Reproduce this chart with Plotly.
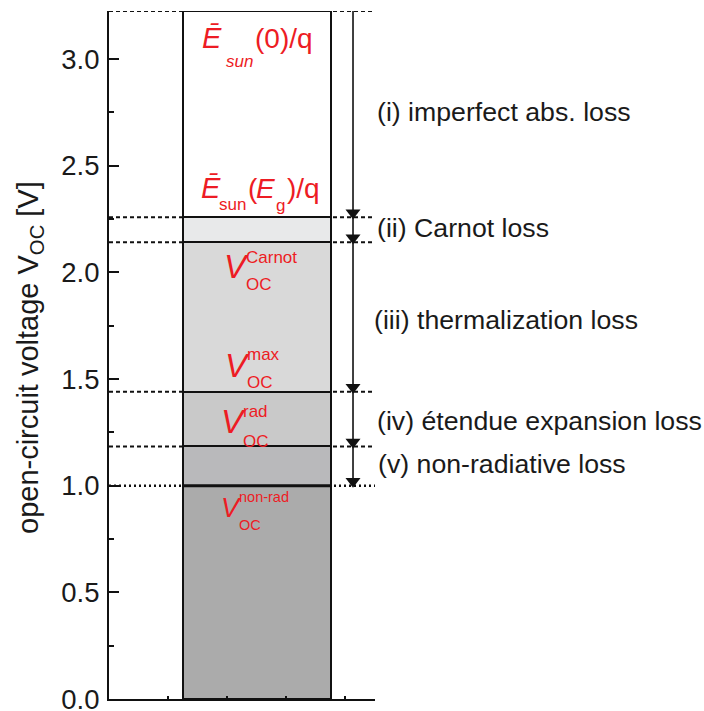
import plotly.graph_objects as go

# ---------------- data ----------------
# energy / voltage levels (V), from top to bottom
level_names = ["Esun(0)/q", "Esun(Eg)/q", "VOC Carnot", "VOC max", "VOC rad", "VOC non-rad"]
levels = [3.225, 2.258, 2.141, 1.440, 1.184, 1.000]
loss_labels = [
    "(i) imperfect abs. loss",
    "(ii) Carnot loss",
    "(iii) thermalization loss",
    "(iv) étendue expansion loss",
    "(v) non-radiative loss",
]
ytick_vals = [0.0, 0.5, 1.0, 1.5, 2.0, 2.5, 3.0]

# ---------------- style ----------------
RED = "#ed1c24"
INK = "#1a1a1a"
FONT = "Liberation Sans, Arial, sans-serif"
seg_colors = ["#ffffff", "#e8e9ea", "#d9d9d9", "#c9c9c9", "#b9b9bb", "#ababab"]  # top -> bottom
W, H = 704, 711
ML, MR, MT, MB = 109, 329, 11, 12
PW, PH = W - ML - MR, H - MT - MB
XMAX = 4.5
YMAX = levels[0]
BAR_X, BAR_W = 2.5, 2.5
ARROW_X = 4.128
px_per_v = PH / YMAX

fig = go.Figure()

# stacked level segments (drawn with base)
bases = levels[1:] + [0.0]
for top, base, col in zip(levels, bases, seg_colors):
    fig.add_trace(go.Bar(
        x=[BAR_X], y=[top - base], base=[base], width=BAR_W,
        marker=dict(color=col, line=dict(color="#111111", width=2)),
        cliponaxis=False, showlegend=False, hoverinfo="skip",
    ))

shapes = []
# dashed level lines across the whole axis (behind the bar)
for i, lv in enumerate(levels):
    last = i == len(levels) - 1
    shapes.append(dict(
        type="line", xref="x", yref="y", x0=0, x1=XMAX, y0=lv, y1=lv,
        layer="below",
        line=dict(color="#111111", width=2.5 if last else 2,
                  dash="2px,3px" if last else "4px,3px"),
    ))
# thicker line at the non-radiative level inside the bar
shapes.append(dict(type="line", xref="x", yref="y",
                   x0=BAR_X - BAR_W / 2, x1=BAR_X + BAR_W / 2,
                   y0=levels[-1], y1=levels[-1],
                   line=dict(color="#111111", width=3)))

# arrow line
fig.add_trace(go.Scatter(
    x=[ARROW_X, ARROW_X], y=[levels[0], levels[-1]], mode="lines",
    line=dict(color="#111111", width=1.6), cliponaxis=False,
    showlegend=False, hoverinfo="skip",
))
# arrow heads (tip placed on each level)
head_size = 13
fig.add_trace(go.Scatter(
    x=[ARROW_X] * (len(levels) - 1),
    y=[lv + 4.5 / px_per_v for lv in levels[1:]],
    mode="markers",
    marker=dict(symbol="triangle-down", size=head_size, color="#111111",
                line=dict(width=0)),
    cliponaxis=False, showlegend=False, hoverinfo="skip",
))

annotations = []


def px_to_paper(px, py):
    return (px - ML) / PW, (H - MB - py) / PH


def piece(px_left, baseline, text, size, color=RED, italic=False):
    xc, yc = px_to_paper(px_left, baseline - 0.3465 * size)
    annotations.append(dict(
        xref="paper", yref="paper", x=xc, y=yc, xanchor="left", yanchor="middle",
        text=f"<i>{text}</i>" if italic else text, showarrow=False,
        borderpad=0, borderwidth=0,
        font=dict(family=FONT, size=size, color=color),
    ))


# red level labels
piece(202, 48, "Ē", 29, italic=True)
piece(226, 67, "sun", 17, italic=True)
piece(255, 48, "(0)/q", 28)

piece(201, 198, "Ē", 29, italic=True)
piece(219, 210, "sun", 17)
piece(248, 198, "(", 28)
piece(256, 198, "E", 28, italic=True)
piece(276, 211, "g", 17)
piece(287, 198, ")/q", 28)

v_labels = [  # (V left, V baseline, V size, sup text, sup baseline, sub baseline, small size)
    (224, 278, 33, "Carnot", 263, 290, 17),
    (225, 377, 33, "max", 360, 388, 17),
    (221, 433, 33, "rad", 417, 447, 17),
    (221, 517, 27, "non-rad", 502, 530, 14.5),
]
for vx, vb, vs, sup, sb, subb, ss in v_labels:
    piece(vx, vb, "V", vs, italic=True)
    piece(vx + vs * 0.66, sb, sup, ss)
    piece(vx + vs * 0.66, subb, "OC", ss)

# loss labels on the right
loss_centers = [112, 228, 320, 421, 464]
loss_x = [377, 377, 374, 377, 378]
for txt, cy, lx in zip(loss_labels, loss_centers, loss_x):
    xc, yc = px_to_paper(lx, cy)
    annotations.append(dict(
        xref="paper", yref="paper", x=xc, y=yc, xanchor="left", yanchor="middle",
        text=txt, showarrow=False, borderpad=0, borderwidth=0,
        font=dict(family=FONT, size=26.7, color=INK),
    ))

# y-axis title
xc, yc = px_to_paper(30, 358)
annotations.append(dict(
    xref="paper", yref="paper", x=xc, y=yc, xanchor="center", yanchor="middle",
    text="open-circuit voltage V<sub>OC</sub> [V]", textangle=-90, showarrow=False,
    font=dict(family=FONT, size=29, color=INK),
))

fig.update_layout(
    width=W, height=H,
    margin=dict(l=ML, r=MR, t=MT, b=MB, pad=0, autoexpand=False),
    paper_bgcolor="white", plot_bgcolor="white",
    barmode="overlay", bargap=0,
    showlegend=False,
    shapes=shapes, annotations=annotations,
    xaxis=dict(
        range=[0, XMAX], showgrid=False, zeroline=False, automargin=False,
        showline=True, linecolor="#111111", linewidth=2,
        tickvals=[1, 2, 3, 4], ticks="inside", ticklen=3, tickwidth=2,
        tickcolor="#111111", showticklabels=False, fixedrange=True,
    ),
    yaxis=dict(
        range=[0, YMAX], showgrid=False, zeroline=False, automargin=False,
        showline=True, linecolor="#111111", linewidth=2,
        tickvals=ytick_vals, tickformat=".1f",
        ticks="inside", ticklen=10, tickwidth=2, tickcolor="#111111",
        ticklabelstandoff=2, ticklabeloverflow="allow",
        minor=dict(dtick=0.25, tick0=0, ticks="inside", ticklen=5, tickwidth=2,
                   tickcolor="#111111", showgrid=False),
        tickfont=dict(family=FONT, size=27.5, color=INK),
        fixedrange=True,
    ),
)

fig.write_html("out.html", config={"displayModeBar": False},
               post_script="document.body.style.margin='0';")
